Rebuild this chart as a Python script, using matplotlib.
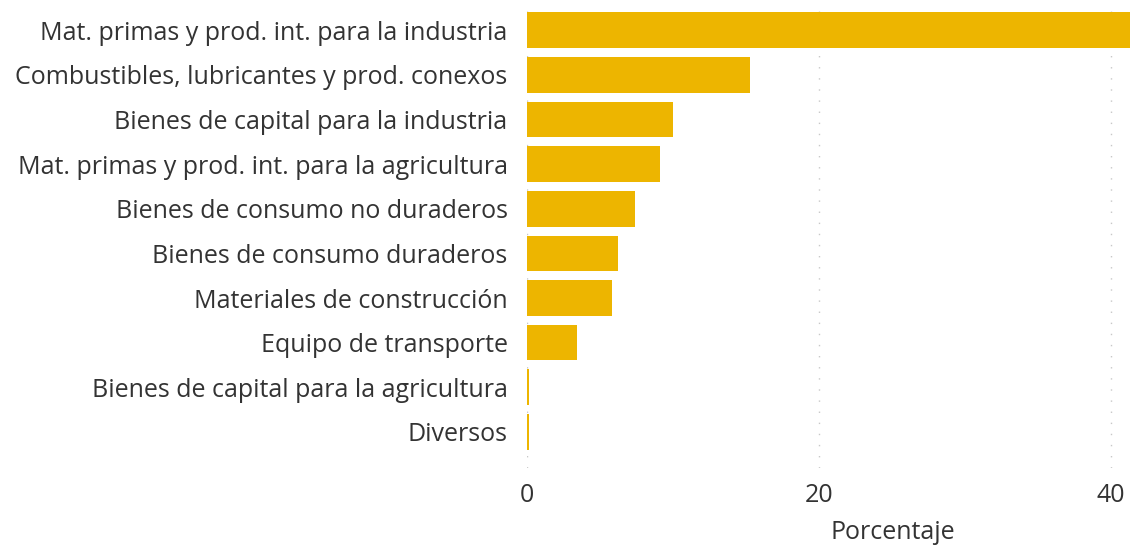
import matplotlib.pyplot as plt

categorias = [
    "Mat. primas y prod. int. para la industria",
    "Combustibles, lubricantes y prod. conexos",
    "Bienes de capital para la industria",
    "Mat. primas y prod. int. para la agricultura",
    "Bienes de consumo no duraderos",
    "Bienes de consumo duraderos",
    "Materiales de construcción",
    "Equipo de transporte",
    "Bienes de capital para la agricultura",
    "Diversos",
]
porcentaje = [41.3, 15.3, 10.0, 9.1, 7.4, 6.2, 5.8, 3.4, 0.15, 0.15]

plt.rcParams['font.family'] = ['Open Sans', 'DejaVu Sans']

fig = plt.figure(figsize=(11.3, 5.48), dpi=100)
ax = fig.add_axes([0.4664, 0.146, 0.5336, 0.8394])

y = range(len(categorias))
ax.barh(y, porcentaje, height=0.8, color="#EDB500", zorder=2)

ax.set_ylim(9.81, -0.5)
ax.set_xlim(0, 41.3)
ax.set_yticks(list(y))
ax.set_yticklabels(categorias)
ax.set_xticks([0, 20, 40])

ax.tick_params(axis='y', length=0, pad=14, labelsize=18, labelcolor="#333333")
ax.tick_params(axis='x', length=0, pad=11, labelsize=18, labelcolor="#333333")

ax.grid(axis='x', color="#c8c8c8", linestyle=(0, (1, 7)), linewidth=1, zorder=0)
for s in ax.spines.values():
    s.set_visible(False)

ax.set_xlabel("Porcentaje", fontsize=18, color="#333333")
ax.xaxis.set_label_coords(0.607, -0.112)

fig.savefig("out.png", dpi=100)
